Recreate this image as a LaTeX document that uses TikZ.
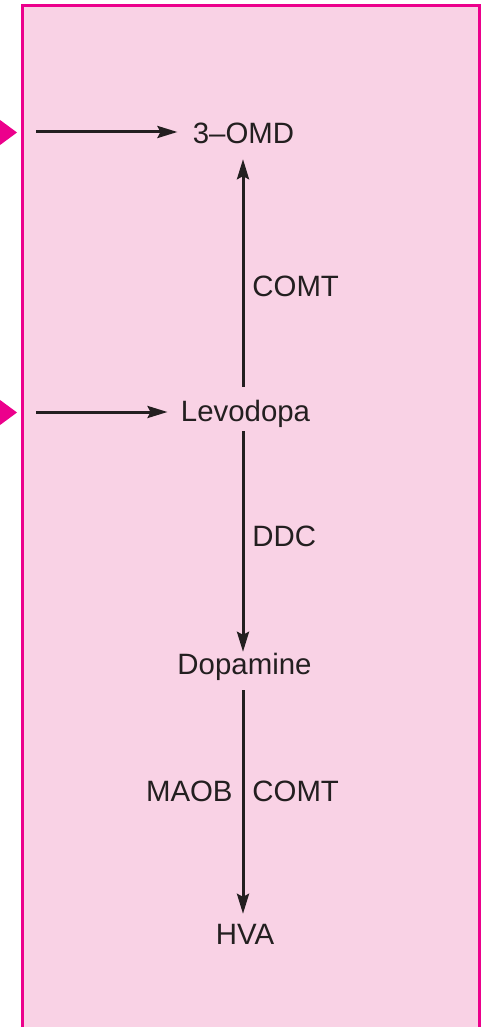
\documentclass[tikz,border=0pt]{standalone}
\usepackage{fontspec}
\setmainfont{Liberation Sans}
\usetikzlibrary{arrows.meta}
\definecolor{pinkbg}{HTML}{F9D2E5}
\definecolor{magentaline}{HTML}{EC008C}
\definecolor{inkc}{HTML}{231F20}
\begin{document}
\begin{tikzpicture}[x=0.5pt,y=-0.5pt,
  lbl/.style={inner sep=0pt, text height=0.72em, text depth=0.21em, text=inkc,
    font=\fontsize{14.7}{17}\selectfont},
  arr/.style={draw=inkc, line width=1.5pt, -{Stealth[length=10pt,width=6pt,inset=1.5pt]}},
  frame/.style={draw=magentaline, line width=1.5pt}]
\useasboundingbox (0,0) rectangle (488,1027);
\clip (0,0) rectangle (488,1027);
% panel
\fill[pinkbg] (22.5,5.5) rectangle (479.5,1050);
\draw[frame] (22.5,1050) -- (22.5,5.5) -- (479.5,5.5) -- (479.5,1050);
% incoming magenta arrowheads
\fill[magentaline] (-4,117) -- (17,132.5) -- (-4,148) -- cycle;
\fill[magentaline] (-4,397) -- (17,412.5) -- (-4,428) -- cycle;
% nodes
\node[lbl, anchor=base] (o3) at (243.5,144) {3–OMD};
\node[lbl, anchor=base] (levo) at (245.5,421) {Levodopa};
\node[lbl, anchor=base] (dopa) at (244.5,674) {Dopamine};
\node[lbl, anchor=base] (hva) at (245,944) {HVA};
\node[lbl, anchor=base west] (comt1) at (252,296) {COMT};
\node[lbl, anchor=base west] (ddc) at (252,546) {DDC};
\node[lbl, anchor=base east] (maob) at (233,801) {MAOB};
\node[lbl, anchor=base west] (comt2) at (252,801) {COMT};
% helper coordinates
\coordinate (vx) at (243,0);
\coordinate (src1) at (36,132);
\coordinate (src2) at (36,412);
% horizontal inputs
\draw[arr, shorten >=7.5pt] (src1) -- (src1 -| o3.west);
\draw[arr, shorten >=6.5pt] (src2) -- (src2 -| levo.west);
% vertical pathway
\draw[arr, shorten <=9.7pt, shorten >=5.3pt] (levo.north -| vx) -- (o3.south -| vx);
\draw[arr, shorten <=2.8pt, shorten >=3.7pt] (levo.south -| vx) -- (dopa.north -| vx);
\draw[arr, shorten <=5.8pt, shorten >=7.7pt] (dopa.south -| vx) -- (hva.north -| vx);
\end{tikzpicture}
\end{document}
